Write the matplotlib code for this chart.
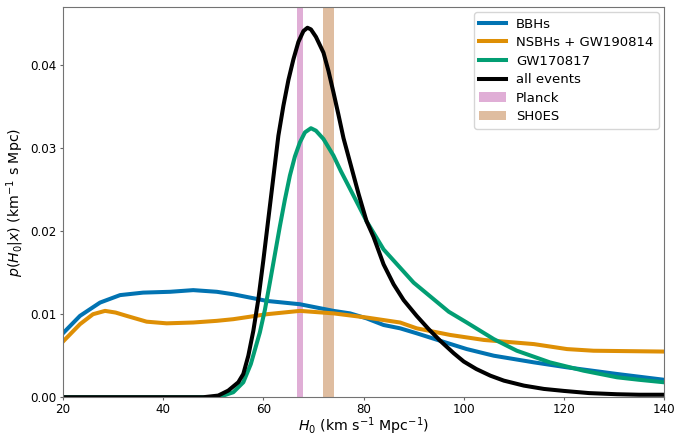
import numpy as np
import matplotlib
matplotlib.use("Agg")
import matplotlib.pyplot as plt

# H0 posteriors (km/s/Mpc) for each event set
h_bbh = [20, 23.4, 27.4, 31.4, 36, 41.4, 46, 50.7, 54, 60.7, 67.3, 74, 77.3, 80.6,
         84, 87.3, 90.6, 95.3, 100.6, 106, 114, 120.6, 130.6, 140]
p_bbh = [0.0077, 0.0098, 0.0114, 0.0123, 0.0126, 0.0127, 0.0129, 0.0127, 0.0124,
         0.0116, 0.0112, 0.0104, 0.0101, 0.0095, 0.0087, 0.0083, 0.0077, 0.0068,
         0.0058, 0.0050, 0.0042, 0.0036, 0.0028, 0.0021]

h_nsbh = [20, 23.4, 26, 28.4, 30.5, 32.7, 36.7, 40.7, 46, 50.7, 54, 60.7, 67.3, 74,
          80.6, 87.3, 90.6, 97.3, 104, 114, 120.6, 125.9, 140]
p_nsbh = [0.0067, 0.0088, 0.0100, 0.0104, 0.0102, 0.0098, 0.0091, 0.0089, 0.0090,
          0.0092, 0.0094, 0.0100, 0.0104, 0.0101, 0.0096, 0.0090, 0.0083, 0.0075,
          0.0069, 0.0064, 0.0058, 0.0056, 0.0055]

h_bns = [20, 50, 52, 54, 56, 57.5, 59.3, 60.3, 61.3, 62.3, 63.3, 64.3, 65.3, 66.3,
         67.3, 68.3, 69.5, 70.5, 72, 74, 75.5, 77.3, 79, 80.6, 82, 84, 87.3, 90, 94,
         97, 100.6, 106, 110.6, 117.2, 123.9, 130.6, 135, 140]
p_bns = [0, 0, 0.0002, 0.0006, 0.0018, 0.0040, 0.0078, 0.0105, 0.0138, 0.0172,
         0.0206, 0.0238, 0.0267, 0.0290, 0.0307, 0.0319, 0.0324, 0.0321, 0.0311,
         0.0291, 0.0272, 0.0251, 0.0231, 0.0212, 0.0198, 0.0178, 0.0156, 0.0138,
         0.0118, 0.0103, 0.0090, 0.0070, 0.0056, 0.0042, 0.0032, 0.0024, 0.0021,
         0.0018]

h_all = [20, 40, 48, 51, 53, 55, 56, 57, 58, 59, 60, 61, 62, 63, 64, 65, 66, 67, 68,
         68.8, 69.5, 70.5, 72, 73, 74, 75, 76, 77.3, 79, 80.6, 82, 84, 86, 88, 90.6,
         93, 95.3, 98, 100, 102.5, 105.3, 108, 112, 116, 120, 125, 130.6, 135, 140]
p_all = [0, 0, 0, 0.0002, 0.0008, 0.0018, 0.0028, 0.0050, 0.0080, 0.0118, 0.0165,
         0.0215, 0.0265, 0.0315, 0.0351, 0.0382, 0.0407, 0.0428, 0.0441, 0.0445,
         0.0443, 0.0434, 0.0415, 0.0393, 0.0367, 0.0340, 0.0312, 0.0283, 0.0245,
         0.0212, 0.0193, 0.0160, 0.0136, 0.0117, 0.0098, 0.0082, 0.0068, 0.0053,
         0.0043, 0.0034, 0.0026, 0.0020, 0.0014, 0.0010, 0.00076, 0.0005, 0.00036,
         0.0003, 0.0003]

planck = (67.4, 0.6)
shoes = (73.05, 1.05)

fig = plt.figure(figsize=(6.77, 4.37), dpi=100)
ax = fig.add_axes([0.093, 0.091, 0.888, 0.893])

lw = 2.9
ax.plot(h_bbh, p_bbh, color='#0173b2', lw=lw, label='BBHs')
ax.plot(h_nsbh, p_nsbh, color='#de8f05', lw=lw, label='NSBHs + GW190814')
ax.plot(h_bns, p_bns, color='#029e73', lw=lw, label='GW170817')
ax.plot(h_all, p_all, color='black', lw=lw, label='all events')
ax.axvspan(planck[0] - planck[1], planck[0] + planck[1], color='#cc78bc', alpha=0.6,
           lw=0, label='Planck')
ax.axvspan(shoes[0] - shoes[1], shoes[0] + shoes[1], color='#ca9161', alpha=0.6,
           lw=0, label='SH0ES')

ax.set_xlim(20, 140)
ax.set_ylim(0, 0.047)
ax.set_yticks([0, 0.01, 0.02, 0.03, 0.04])
ax.set_xlabel(r'$H_0$ (km s$^{-1}$ Mpc$^{-1}$)', fontsize=10.2, labelpad=-0.5)
ax.set_ylabel(r'$p(H_0|x)$ (km$^{-1}$ s Mpc)', fontsize=10.2, labelpad=3)
ax.tick_params(labelsize=8.6, length=2.5, pad=2, color='0.4')
for s in ax.spines.values():
    s.set_color('0.45')
ax.legend(loc='upper right', fontsize=9.5, labelspacing=0.42,
          borderaxespad=0.4)

fig.savefig('out.png', dpi=100)
